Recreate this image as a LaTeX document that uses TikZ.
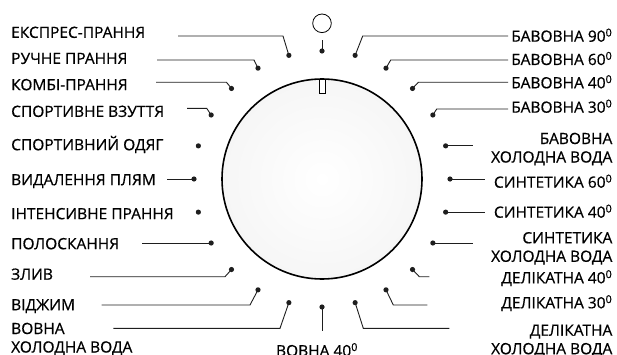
\documentclass[tikz,border=0pt]{standalone}
\usepackage{fontspec}
\setmainfont{Open Sans}[FakeBold=0.6, AutoFakeBold=0.6]
\usetikzlibrary{calc}
\definecolor{dgray}{RGB}{30,30,30}

\begin{document}
\begin{tikzpicture}[x=1pt, y=1pt, font=\fontsize{15.5}{18.5}\selectfont\bfseries,
  lead/.style={dgray, line width=0.9pt},
  lbl/.style={inner sep=0pt, text=black}]
  \useasboundingbox (0,0) rectangle (617,354);

  % Dial with its marker
  \coordinate (c) at (322,175);
  \draw[line width=1.6pt, inner color=white, outer color=gray!7] (c) circle (100);
  \draw[line width=0.6pt, fill=white] (319,261) rectangle (325,275);

  % Dots round the dial, every 15 degrees
  \foreach \a in {0,15,...,345}
    \fill[dgray] (c) ++(\a:128) coordinate (d\a) circle (2.6);

  % Off position
  \node[draw, circle, minimum size=18.6, inner sep=0pt, line width=0.8pt] (off) at (322,330.7) {};
  \coordinate (offln) at (322,314);
  \draw[lead] (d90) -- (offln);

  % Leaders with a bend: angle / bend x / bend y / end x
  \foreach \a/\kx/\ky/\fx in {
    105/283/318/178, 120/254/294/157, 135/226.5/271.7/156, 150/206.7/245.7/187,
    225/225/77.3/90, 240/250/49/101.7, 255/280/25.7/113.3,
    75/362.7/318/508, 60/390.7/294/508, 45/418.3/271.7/508, 30/436.7/245/508,
    315/419.3/77.3/429.3, 300/393.3/49/427.3, 285/363.3/25.7/449.3} {
    \coordinate (k\a) at (\kx,\ky);
    \coordinate (f\a) at (\fx,\ky);
    \draw[lead] (d\a) -- (k\a) -- (f\a);
  }
  % Straight leaders: angle / length
  \foreach \a/\len in {180/-27.3, 210/-69.4, 15/27.7, 0/35, 345/39.4, 330/40.4}
    \draw[lead] (d\a) -- ++(\len,0) coordinate (f\a);
  \coordinate (f270) at (322,23.3);
  \draw[lead] (d270) -- (f270);

  % Left labels
  \foreach \n/\y/\t in {
    ekspres/316.1/ЕКСПРЕС-ПРАННЯ, ruchne/290.1/РУЧНЕ ПРАННЯ,
    kombi/263.8/КОМБІ-ПРАННЯ, vzuttia/237.1/СПОРТИВНЕ ВЗУТТЯ,
    odiah/203.8/СПОРТИВНИЙ ОДЯГ, pliamy/168.8/ВИДАЛЕННЯ ПЛЯМ,
    intens/134.8/ІНТЕНСИВНЕ ПРАННЯ, polosk/104.8/ПОЛОСКАННЯ,
    zlyv/74.3/ЗЛИВ, vidzhym/43.8/ВІДЖИМ}
    \node[lbl, anchor=base west] (\n) at (11,\y) {\t};
  \node[lbl, anchor=base west, align=left] (vovnakh) at (11,1.5) {ВОВНА\\ХОЛОДНА ВОДА};

  % Right labels
  \foreach \n/\y/\t in {
    bav90/312.3/БАВОВНА 90, bav60/289/БАВОВНА 60,
    bav40/265.7/БАВОВНА 40, bav30/241.3/БАВОВНА 30,
    syn60/166.3/СИНТЕТИКА 60, syn40/136.3/СИНТЕТИКА 40,
    del40/70.7/ДЕЛІКАТНА 40, del30/45.7/ДЕЛІКАТНА 30}
    \node[lbl, anchor=base east] (\n) at (612.5,\y) {\t\textsuperscript{0}};
  \node[lbl, anchor=base east, align=right] (bavkh) at (612.5,191.5) {БАВОВНА\\ХОЛОДНА ВОДА};
  \node[lbl, anchor=base east, align=right] (synkh) at (612.5,92.2) {СИНТЕТИКА\\ХОЛОДНА ВОДА};
  \node[lbl, anchor=base east, align=right] (delkh) at (612.5,-0.2) {ДЕЛІКАТНА\\ХОЛОДНА ВОДА};

  % Bottom label
  \node[lbl, anchor=base] (vovna40) at (317,-2.2) {ВОВНА 40\textsuperscript{0}};
\end{tikzpicture}
\end{document}
